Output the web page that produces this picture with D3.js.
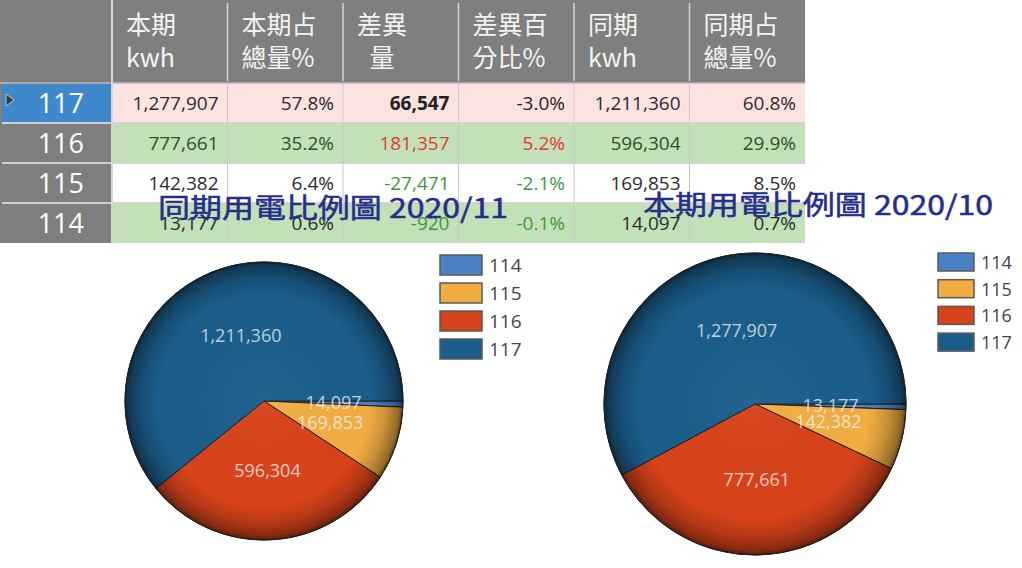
<!DOCTYPE html>
<html><head><meta charset="utf-8">
<script src="https://cdn.jsdelivr.net/npm/d3@7"></script>
<style>
html,body{margin:0;padding:0;background:#fff;}
svg{display:block;}
</style></head>
<body>
<svg id="chart" width="1022" height="568"></svg>
<script>
// ---------- data ----------
const regions   = ["117", "116", "115", "114"];
const curKwh    = [1277907, 777661, 142382, 13177];
const curPct    = ["57.8%", "35.2%", "6.4%", "0.6%"];
const diffKwh   = [66547, 181357, -27471, -920];
const diffPct   = ["-3.0%", "5.2%", "-2.1%", "-0.1%"];
const prevKwh   = [1211360, 596304, 169853, 14097];
const prevPct   = ["60.8%", "29.9%", "8.5%", "0.7%"];
const headerLines = [["本期", "kwh"], ["本期占", "總量%"], ["差異", "\u2002量"], ["差異百", "分比%"], ["同期", "kwh"], ["同期占", "總量%"]];
const legendKeys = ["114", "115", "116", "117"];
const pieTitles = ["同期用電比例圖 2020/11", "本期用電比例圖 2020/10"];

// ---------- setup ----------
const svg = d3.select("#chart");
const fmt = d3.formatLocale({ decimal: ".", thousands: ",", grouping: [3], currency: ["", ""], minus: "-" }).format(",");
const latin = "'Open Sans','Noto Sans',sans-serif";
const cjk = "'Noto Sans CJK TC','Noto Sans',sans-serif";

const colKeys = headerLines.map((d, i) => "c" + i);
const x = d3.scaleBand().domain(colKeys).range([112, 805]);
const y = d3.scaleBand().domain(regions).range([83, 243]);

// ---------- table ----------
const table = svg.append("g");
table.append("rect").attr("x", 0).attr("y", 0).attr("width", 805).attr("height", 83).attr("fill", "#7f7f7f");
table.append("rect").attr("x", 0).attr("y", 83).attr("width", 112).attr("height", 160).attr("fill", "#7f7f7f");

const rowBg = r => r === "117" ? "#fde3e0" : (r === "115" ? "#ffffff" : "#c3e1b8");
regions.forEach(r => {
  table.append("rect").attr("x", 112).attr("y", y(r)).attr("width", 805 - 112).attr("height", y.bandwidth()).attr("fill", rowBg(r));
});
table.append("rect").attr("x", 2).attr("y", y("117") + 1).attr("width", 109).attr("height", y.bandwidth() - 2).attr("fill", "#3f88cb");
table.append("path").attr("d", `M6,${y("117") + 11} L14,${y("117") + 17} L6,${y("117") + 23} Z`).attr("fill", "#3a3a3a").attr("stroke", "#ddd").attr("stroke-width", 0.8);

colKeys.forEach((k, i) => {
  if (i > 0) table.append("line").attr("x1", x(k)).attr("x2", x(k)).attr("y1", 83).attr("y2", 243).attr("stroke", "#c9c9c9").attr("stroke-width", 1);
});
regions.forEach((r, i) => {
  if (i > 0) {
    table.append("line").attr("x1", 112).attr("x2", 805).attr("y1", y(r)).attr("y2", y(r)).attr("stroke", "#cdcdcd").attr("stroke-width", 1.5);
    table.append("line").attr("x1", 2).attr("x2", 111).attr("y1", y(r)).attr("y2", y(r)).attr("stroke", "#cfcfcf").attr("stroke-width", 2);
  }
});
table.append("line").attr("x1", 0).attr("x2", 805).attr("y1", 83).attr("y2", 83).attr("stroke", "#bdbdbd").attr("stroke-width", 1.5);
table.append("line").attr("x1", 112).attr("x2", 112).attr("y1", 0).attr("y2", 243).attr("stroke", "#d6d6d6").attr("stroke-width", 2);
colKeys.forEach((k, i) => {
  if (i > 0) table.append("line").attr("x1", x(k)).attr("x2", x(k)).attr("y1", 3).attr("y2", 81).attr("stroke", "#d4d4d4").attr("stroke-width", 1.5);
});

headerLines.forEach((lines, i) => {
  const t = table.append("text").attr("font-family", cjk).attr("font-size", 25).attr("fill", "#f4f4f4");
  lines.forEach((ln, j) => {
    t.append("tspan").attr("x", x(colKeys[i]) + 14).attr("y", j === 0 ? 34 : 67).text(ln);
  });
});

regions.forEach(r => {
  table.append("text").attr("x", 84).attr("y", y(r) + y.bandwidth() / 2 + 10)
    .attr("text-anchor", "end").attr("font-family", latin).attr("font-size", 27)
    .attr("fill", "#ffffff").text(r);
});

const baseTone = r => r === "116" ? "#2f4f2f" : "#2b2b2b";
const cols = [
  regions.map((r, i) => ({ r, t: fmt(curKwh[i]) })),
  regions.map((r, i) => ({ r, t: curPct[i] })),
  regions.map((r, i) => ({ r, t: fmt(diffKwh[i]), sign: diffKwh[i], diff: true })),
  regions.map((r, i) => ({ r, t: diffPct[i], sign: diffKwh[i], diff: true })),
  regions.map((r, i) => ({ r, t: fmt(prevKwh[i]) })),
  regions.map((r, i) => ({ r, t: prevPct[i] }))
];
cols.forEach((col, ci) => {
  col.forEach(c => {
    let fill = baseTone(c.r), weight = "normal";
    if (c.diff) {
      if (c.r === "117") { fill = "#222"; weight = ci === 2 ? "bold" : "normal"; }
      else fill = c.sign > 0 ? "#e53935" : "#3c9a3c";
    }
    table.append("text").attr("x", x(colKeys[ci]) + x.bandwidth() - 9).attr("y", y(c.r) + y.bandwidth() / 2 + 7)
      .attr("text-anchor", "end").attr("font-family", latin).attr("font-size", 19)
      .attr("font-weight", weight).attr("fill", fill).text(c.t);
  });
});

// ---------- pies ----------
const color = d3.scaleOrdinal().domain(legendKeys).range(["#4a81c4", "#f1ad42", "#d7431a", "#1b5e8b"]);
const defs = svg.append("defs");
const grad = defs.append("radialGradient").attr("id", "shade").attr("cx", "50%").attr("cy", "50%").attr("r", "50%");
[[0, "#ffffff", 0.04], [0.76, "#000000", 0], [0.88, "#000000", 0.16], [0.97, "#000000", 0.38], [1, "#000000", 0.6]].forEach(s =>
  grad.append("stop").attr("offset", s[0]).attr("stop-color", s[1]).attr("stop-opacity", s[2]));

const pieGen = d3.pie().sort(null).value(d => d.v).startAngle(Math.PI / 2).endAngle(Math.PI / 2 + 2 * Math.PI);

const pies = [
  { vals: prevKwh, cx: 264, cy: 401, r: 139, title: pieTitles[0], tx: 158, ty: 218,
    lg: { x: 440, y: 255, step: 28, w: 42, h: 20, fs: 19 } },
  { vals: curKwh, cx: 755, cy: 404, r: 151, title: pieTitles[1], tx: 643, ty: 215,
    lg: { x: 938, y: 253, step: 26.7, w: 36, h: 18, fs: 18 } }
];

pies.forEach(p => {
  const data = legendKeys.map(k => ({ k, v: p.vals[regions.indexOf(k)] }));
  const arcs = pieGen(data);
  const arc = d3.arc().innerRadius(0).outerRadius(p.r);
  const g = svg.append("g").attr("transform", `translate(${p.cx},${p.cy})`);
  g.selectAll("path.slice").data(arcs).join("path").attr("class", "slice")
    .attr("d", arc).attr("fill", d => color(d.data.k))
    .attr("stroke", "#1d1d1d").attr("stroke-width", 1).attr("stroke-linejoin", "round");
  g.append("circle").attr("r", p.r).attr("fill", "url(#shade)").attr("stroke", "#222").attr("stroke-width", 1);
  g.selectAll("text.lbl").data(arcs).join("text").attr("class", "lbl")
    .attr("transform", d => `translate(${arc.centroid(d)})`)
    .attr("text-anchor", "middle").attr("dy", "0.35em")
    .attr("font-family", latin).attr("font-size", 18)
    .attr("fill", "#f2f6fb").attr("fill-opacity", 0.75)
    .text(d => fmt(d.data.v));

  const lg = svg.append("g");
  legendKeys.forEach((k, i) => {
    lg.append("rect").attr("x", p.lg.x).attr("y", p.lg.y + i * p.lg.step).attr("width", p.lg.w).attr("height", p.lg.h)
      .attr("fill", color(k)).attr("stroke", "#5a5a5a").attr("stroke-width", 1.5);
    lg.append("text").attr("x", p.lg.x + p.lg.w + 7).attr("y", p.lg.y + i * p.lg.step + p.lg.h / 2 + 7)
      .attr("font-family", latin).attr("font-size", p.lg.fs).attr("fill", "#444").text(k);
  });

  svg.append("text").attr("x", p.tx).attr("y", p.ty)
    .attr("font-family", cjk).attr("font-size", 27).attr("font-weight", "normal")
    .attr("fill", "#262d8c").attr("stroke", "#262d8c").attr("stroke-width", 0.5)
    .attr("textLength", 350).attr("lengthAdjust", "spacingAndGlyphs")
    .text(p.title);
});
</script>
</body></html>
